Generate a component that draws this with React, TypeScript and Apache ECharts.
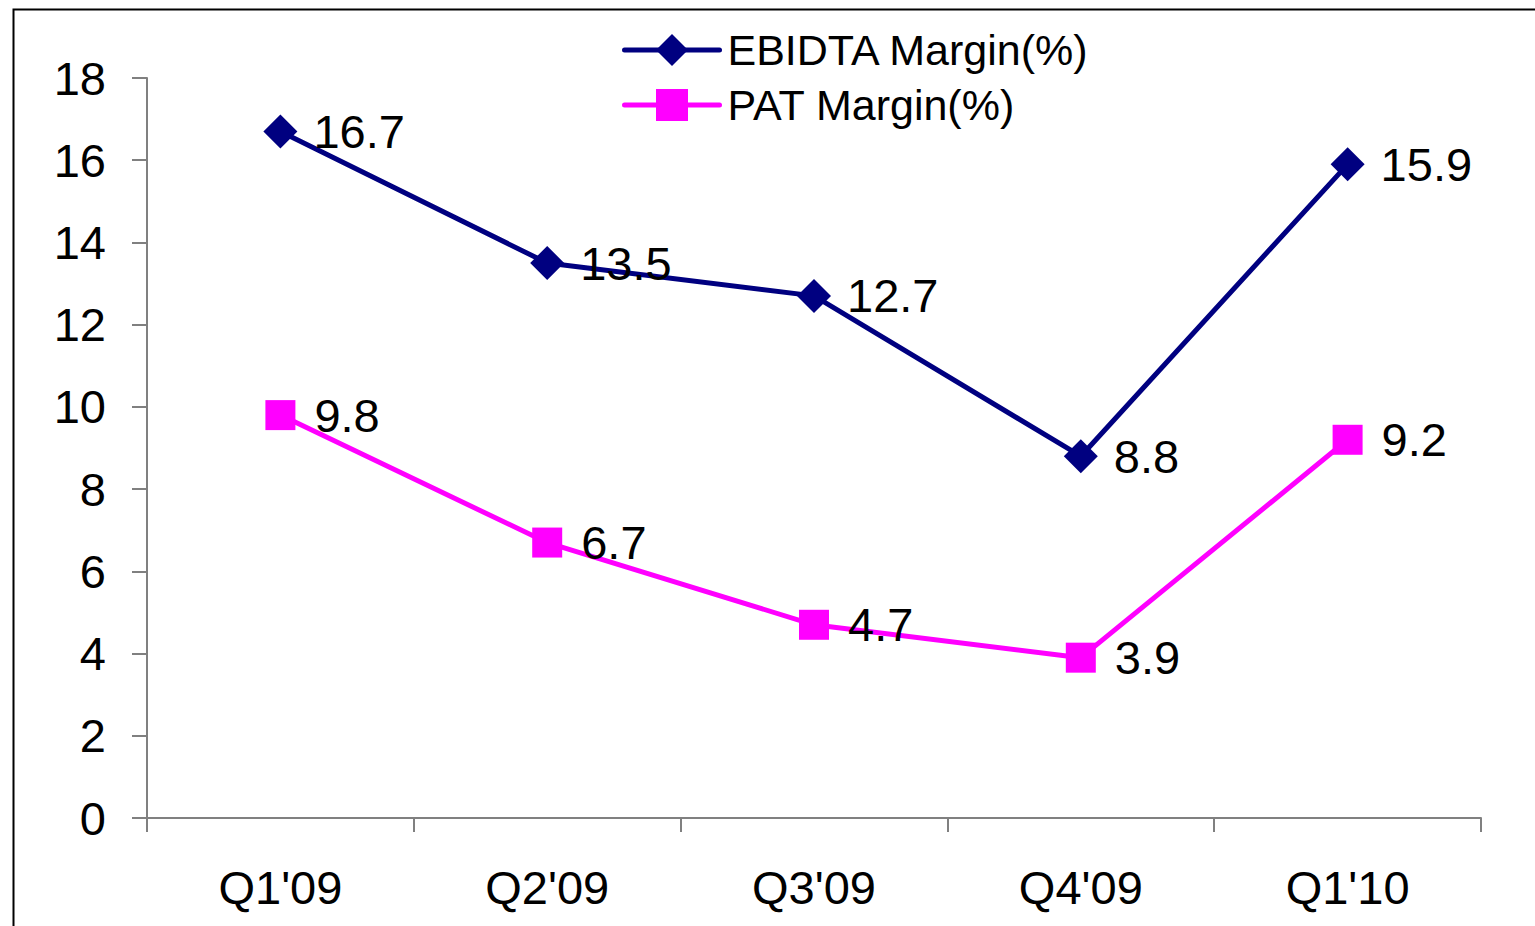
import React, { useEffect, useRef } from "react";
import * as echarts from "echarts";

const categories = ["Q1'09", "Q2'09", "Q3'09", "Q4'09", "Q1'10"];
const ebidtaMargin = [16.7, 13.5, 12.7, 8.8, 15.9];
const patMargin = [9.8, 6.7, 4.7, 3.9, 9.2];
const seriesNames = ["EBIDTA Margin(%)", "PAT Margin(%)"];

const FONT = "'Liberation Sans', Arial, sans-serif";

export default function App() {
  const ref = useRef<HTMLDivElement>(null);
  useEffect(() => {
    if (!ref.current) return;
    const chart = echarts.init(ref.current, undefined, { renderer: "svg" });
    const labelCfg = (dist: number) => ({
      show: true,
      position: "right" as const,
      distance: dist,
      fontSize: 47,
      fontFamily: FONT,
      color: "#000",
    });
    chart.setOption({
      animation: false,
      backgroundColor: "#fff",
      textStyle: { fontFamily: FONT },
      grid: { left: 147, right: 54, top: 78, bottom: 108, containLabel: false },
      legend: {
        orient: "vertical",
        left: 617,
        top: 22,
        itemWidth: 95,
        itemHeight: 40,
        itemGap: 9,
        data: seriesNames,
        lineStyle: { width: 5, cap: "round" },
        textStyle: {
          fontSize: 43,
          fontFamily: FONT,
          color: "#000",
          lineHeight: 46,
          padding: [0, 0, 0, 3],
        },
      },
      xAxis: {
        type: "category",
        data: categories,
        boundaryGap: true,
        axisLine: { lineStyle: { color: "#808080", width: 2 } },
        axisTick: { show: true, length: 14, lineStyle: { color: "#808080", width: 2 } },
        axisLabel: { fontSize: 47, fontFamily: FONT, color: "#000", margin: 46 },
        splitLine: { show: false },
      },
      yAxis: {
        type: "value",
        min: 0,
        max: 18,
        interval: 2,
        axisLine: { show: true, lineStyle: { color: "#808080", width: 2 } },
        axisTick: { show: true, length: 15, lineStyle: { color: "#808080", width: 2 } },
        axisLabel: { fontSize: 47, fontFamily: FONT, color: "#000", margin: 41 },
        splitLine: { show: false },
      },
      series: [
        {
          name: seriesNames[0],
          type: "line",
          data: ebidtaMargin,
          symbol: "diamond",
          symbolSize: 34,
          lineStyle: { color: "#000080", width: 5 },
          itemStyle: { color: "#000080" },
          label: labelCfg(16),
        },
        {
          name: seriesNames[1],
          type: "line",
          data: patMargin,
          symbol: "rect",
          symbolSize: 30,
          lineStyle: { color: "#FF00FF", width: 5 },
          itemStyle: { color: "#FF00FF" },
          label: labelCfg(19),
        },
      ],
      graphic: [
        {
          type: "rect",
          left: 11,
          top: 7,
          shape: { x: 0, y: 0, width: 1600, height: 1000 },
          style: { fill: "none", stroke: "#000", lineWidth: 2 },
          silent: true,
        },
      ],
    });
    return () => chart.dispose();
  }, []);
  return (
    <div
      ref={ref}
      style={{ position: "fixed", left: 0, top: 0, width: 1535, height: 926 }}
    />
  );
}
